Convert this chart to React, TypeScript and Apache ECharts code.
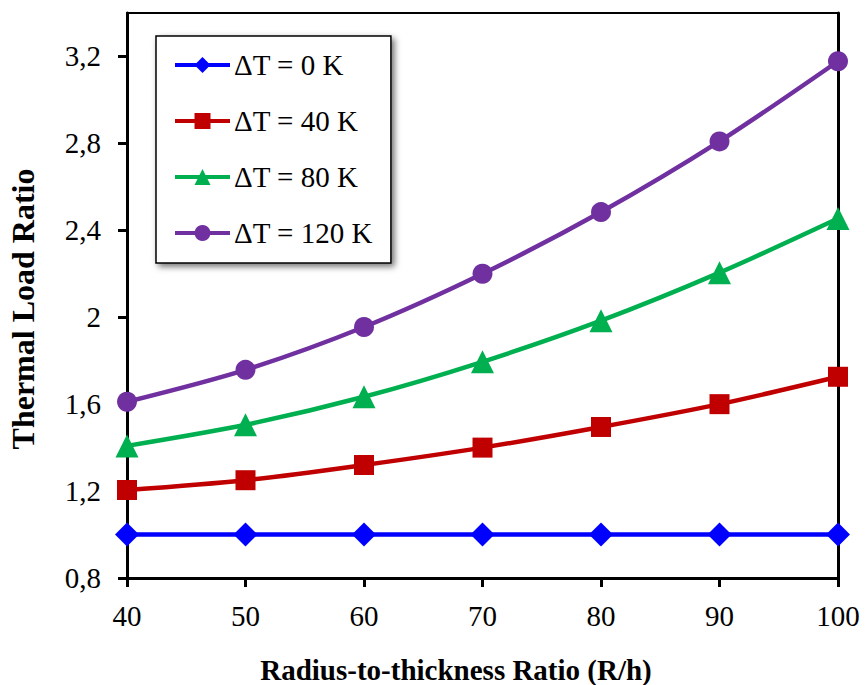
import React, { useEffect, useRef } from "react";
import * as echarts from "echarts";

const xValues = [40, 50, 60, 70, 80, 90, 100];
const seriesNames = ["ΔT = 0 K", "ΔT = 40 K", "ΔT = 80 K", "ΔT = 120 K"];
const dT0 = [1.0, 1.0, 1.0, 1.0, 1.0, 1.0, 1.0];
const dT40 = [1.205, 1.25, 1.32, 1.4, 1.495, 1.6, 1.726];
const dT80 = [1.408, 1.505, 1.634, 1.795, 1.984, 2.205, 2.454];
const dT120 = [1.611, 1.758, 1.955, 2.2, 2.484, 2.809, 3.178];
const yTicks = [0.8, 1.2, 1.6, 2.0, 2.4, 2.8, 3.2];
const xTicks = [40, 50, 60, 70, 80, 90, 100];
const xTitle = "Radius-to-thickness Ratio (R/h)";
const yTitle = "Thermal Load Ratio";

const colors = ["#0000FF", "#C00000", "#00B050", "#7030A0"];
const symbols = ["diamond", "rect", "triangle", "circle"];
const sizes = [24, 20, 23, 20];

const FONT = "Liberation Serif";

export default function App() {
  const ref = useRef<HTMLDivElement>(null);
  useEffect(() => {
    if (!ref.current) return;
    const chart = echarts.init(ref.current, null, { renderer: "svg" });
    const all = [dT0, dT40, dT80, dT120];
    chart.setOption({
      animation: false,
      backgroundColor: "#ffffff",
      grid: { left: 127, right: 27, top: 13, bottom: 107, containLabel: false, outerBoundsMode: "none" },
      legend: {
        orient: "vertical",
        left: 156,
        top: 36,
        data: seriesNames,
        itemWidth: 55,
        itemHeight: 20,
        itemGap: 26,
        padding: [14, 18, 15, 17],
        backgroundColor: "#ffffff",
        borderColor: "#000000",
        borderWidth: 1.5,
        shadowColor: "rgba(0,0,0,0.55)",
        shadowBlur: 6,
        shadowOffsetX: 3,
        shadowOffsetY: 3,
        lineStyle: { width: 4 },
        textStyle: { fontFamily: FONT, fontSize: 29, color: "#000", lineHeight: 30, padding: [0, 0, 0, -1] },
      },
      graphic: [
        {
          type: "text",
          x: 456,
          y: 670,
          style: {
            text: xTitle,
            fontFamily: FONT,
            fontSize: 29,
            fontWeight: "bold",
            fill: "#000",
            align: "center",
            verticalAlign: "middle",
          },
        },
        {
          type: "text",
          x: 23,
          y: 309,
          rotation: Math.PI / 2,
          style: {
            text: yTitle,
            fontFamily: FONT,
            fontSize: 32,
            fontWeight: "bold",
            fill: "#000",
            align: "center",
            verticalAlign: "middle",
          },
        },
      ],
      xAxis: [
        {
          type: "value",
          min: 40,
          max: 100,
          interval: 10,
          splitLine: { show: false },
          axisLine: { show: true, lineStyle: { color: "#000", width: 3 } },
          axisTick: { show: true, length: 9, lineStyle: { color: "#000", width: 3 } },
          axisLabel: {
            margin: 23,
            fontFamily: FONT,
            fontSize: 29,
            color: "#000",
            customValues: xTicks,
          },
        },
        {
          type: "value",
          position: "top",
          min: 40,
          max: 100,
          axisLine: { show: true, onZero: false, lineStyle: { color: "#000", width: 2 } },
          axisTick: { show: false },
          axisLabel: { show: false },
          splitLine: { show: false },
        },
      ],
      yAxis: [
        {
          type: "value",
          min: 0.8,
          max: 3.4,
          interval: 0.4,
          splitLine: { show: false },
          axisLine: { show: true, lineStyle: { color: "#000", width: 3 } },
          axisTick: {
            show: true,
            length: 9,
            lineStyle: { color: "#000", width: 3 },
            customValues: yTicks,
          },
          axisLabel: {
            margin: 26,
            fontFamily: FONT,
            fontSize: 29,
            color: "#000",
            customValues: yTicks,
            formatter: (v: number) => String(Math.round(v * 10) / 10).replace(".", ","),
          },
        },
        {
          type: "value",
          position: "right",
          min: 0.8,
          max: 3.4,
          axisLine: { show: true, onZero: false, lineStyle: { color: "#000", width: 3 } },
          axisTick: { show: false },
          axisLabel: { show: false },
          splitLine: { show: false },
        },
      ],
      series: all.map((vals, i) => ({
        name: seriesNames[i],
        type: "line",
        smooth: 0.3,
        data: xValues.map((x, j) => [x, vals[j]]),
        symbol: symbols[i],
        symbolSize: sizes[i],
        showAllSymbol: true,
        clip: false,
        z: 3 + i,
        lineStyle: { color: colors[i], width: 4.5 },
        itemStyle: { color: colors[i] },
      })),
    });
    return () => chart.dispose();
  }, []);
  return (
    <div
      ref={ref}
      style={{ position: "absolute", left: 0, top: 0, width: 865, height: 685 }}
    />
  );
}
